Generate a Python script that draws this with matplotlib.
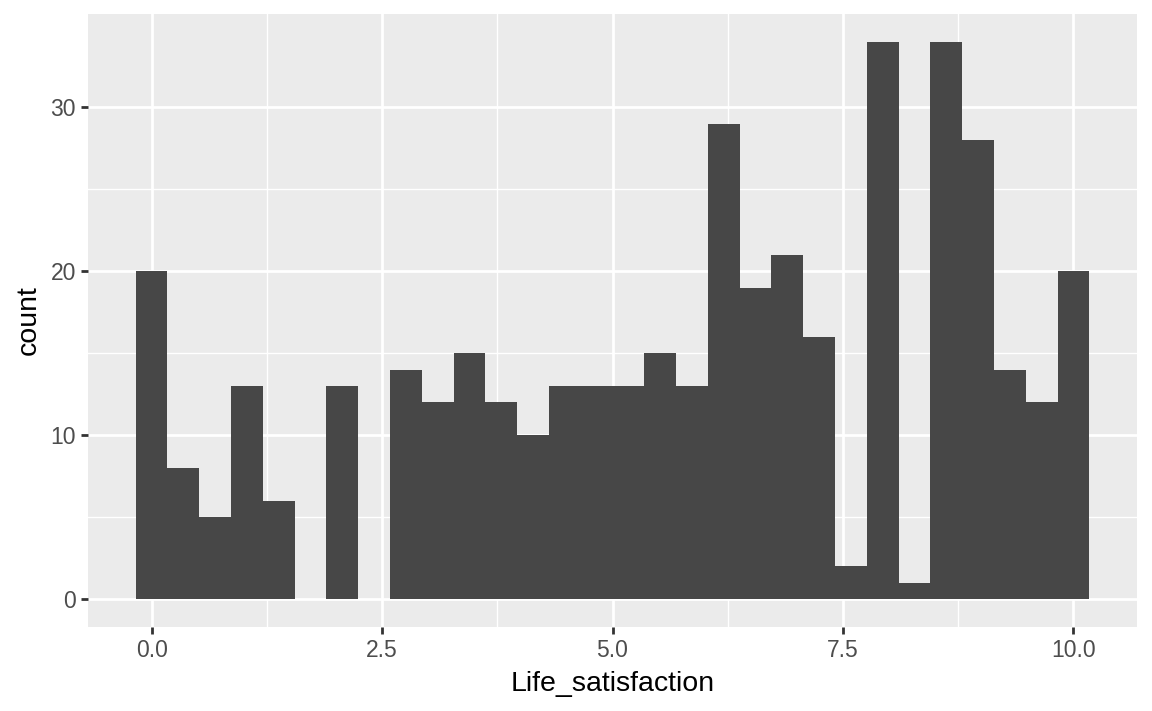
import numpy as np
import matplotlib.pyplot as plt

plt.rcParams['font.family'] = ['Liberation Sans', 'DejaVu Sans']

# histogram counts, 30 bins spanning Life_satisfaction 0..10 (ggplot default bins)
counts = [20, 8, 5, 13, 6, 0, 13, 0, 14, 12, 15, 12, 10, 13, 13,
          13, 15, 13, 29, 19, 21, 16, 2, 34, 1, 34, 28, 14, 12, 20]
x_min, x_max = 0.0, 10.0
x_ticks = [0.0, 2.5, 5.0, 7.5, 10.0]
x_ticklabels = ["0.0", "2.5", "5.0", "7.5", "10.0"]
y_ticks = [0, 10, 20, 30]

nbins = len(counts)
bw = (x_max - x_min) / (nbins - 1)
centers = x_min + bw * np.arange(nbins)

fig = plt.figure(figsize=(11.52, 7.11), dpi=100)
ax = fig.add_axes([88 / 1152, 1 - 627 / 711, (1137 - 88) / 1152, (627 - 14) / 711])
ax.set_facecolor("#EBEBEB")

lo = centers[0] - bw / 2
hi = centers[-1] + bw / 2
pad = 0.05 * (hi - lo)
ax.set_xlim(lo - pad, hi + pad)
ymax = max(counts)
ax.set_ylim(-0.05 * ymax, ymax * 1.05)

for v in [1.25, 3.75, 6.25, 8.75]:
    ax.axvline(v, color="white", lw=1.0, zorder=0)
for v in [5, 15, 25]:
    ax.axhline(v, color="white", lw=1.0, zorder=0)
for v in x_ticks:
    ax.axvline(v, color="white", lw=2.0, zorder=0)
for v in y_ticks:
    ax.axhline(v, color="white", lw=2.0, zorder=0)

ax.bar(centers, counts, width=bw, color="#474747", linewidth=0, zorder=2)

ax.set_xticks(x_ticks)
ax.set_xticklabels(x_ticklabels)
ax.set_yticks(y_ticks)
for s in ax.spines.values():
    s.set_visible(False)
ax.tick_params(colors="#333333", labelcolor="#4D4D4D", labelsize=16.5,
               length=5.2, width=2, pad=3.5)
ax.set_xlabel("Life_satisfaction", fontsize=20.5, labelpad=6.5)
ax.set_ylabel("count", fontsize=20.5, labelpad=6)

fig.savefig("out.png", dpi=100)
